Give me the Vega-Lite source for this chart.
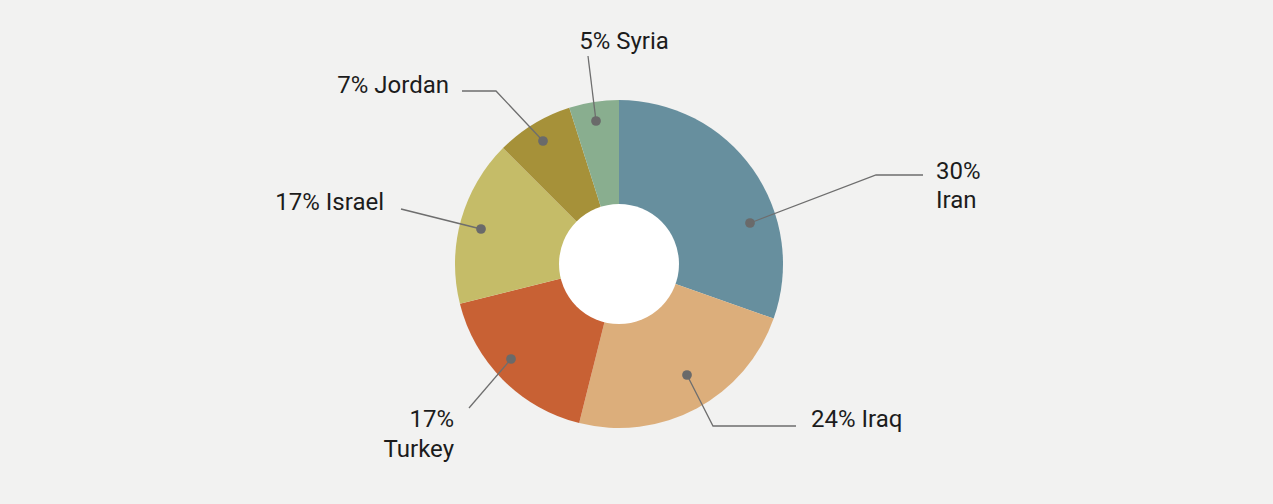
{
  "$schema": "https://vega.github.io/schema/vega-lite/v6.json",
  "width": 1238,
  "height": 480,
  "autosize": {"type": "none"},
  "padding": {"left": 0, "top": 24, "right": 35, "bottom": 0},
  "background": "#f2f2f1",
  "config": {"view": {"stroke": null}},
  "datasets": {
    "shares": [
      {"country": "Iran", "rank": 1, "share": 30.4},
      {"country": "Iraq", "rank": 2, "share": 23.5},
      {"country": "Turkey", "rank": 3, "share": 17.2},
      {"country": "Israel", "rank": 4, "share": 16.4},
      {"country": "Jordan", "rank": 5, "share": 7.6},
      {"country": "Syria", "rank": 6, "share": 4.9}
    ],
    "hole": [{"part": "centre", "v": 1}],
    "leaders": [
      {"country": "Iran", "step": 0, "x": 131, "y": 41},
      {"country": "Iran", "step": 1, "x": 257, "y": 89},
      {"country": "Iran", "step": 2, "x": 304, "y": 89},
      {"country": "Iraq", "step": 0, "x": 68, "y": -111},
      {"country": "Iraq", "step": 1, "x": 94, "y": -162},
      {"country": "Iraq", "step": 2, "x": 177, "y": -162},
      {"country": "Turkey", "step": 0, "x": -108, "y": -95},
      {"country": "Turkey", "step": 1, "x": -150, "y": -144},
      {"country": "Israel", "step": 0, "x": -138, "y": 35},
      {"country": "Israel", "step": 1, "x": -218, "y": 55},
      {"country": "Jordan", "step": 0, "x": -76, "y": 123},
      {"country": "Jordan", "step": 1, "x": -123, "y": 173},
      {"country": "Jordan", "step": 2, "x": -157, "y": 173},
      {"country": "Syria", "step": 0, "x": -23, "y": 143},
      {"country": "Syria", "step": 1, "x": -31, "y": 208}
    ],
    "labels": [
      {"country": "Iran", "label": "30%\nIran", "x": 317, "y": 85},
      {"country": "Iraq", "label": "24% Iraq", "x": 192, "y": -163},
      {"country": "Turkey", "label": "17%\nTurkey", "x": -165, "y": -163},
      {"country": "Israel", "label": "17% Israel", "x": -235, "y": 54},
      {"country": "Jordan", "label": "7% Jordan", "x": -170, "y": 171},
      {"country": "Syria", "label": "5% Syria", "x": 5, "y": 215}
    ]
  },
  "resolve": {"scale": {"theta": "independent"}},
  "layer": [
    {
      "data": {"name": "shares"},
      "mark": {"type": "arc", "outerRadius": 164, "innerRadius": 0, "stroke": null},
      "encoding": {
        "theta": {"field": "share", "type": "quantitative", "stack": true},
        "order": {"field": "rank", "type": "quantitative", "sort": "ascending"},
        "color": {
          "field": "country",
          "type": "nominal",
          "legend": null,
          "scale": {
            "domain": ["Iran", "Iraq", "Turkey", "Israel", "Jordan", "Syria"],
            "range": ["#678f9e", "#dcae7b", "#c86134", "#c5bc68", "#a69139", "#89ae8f"]
          }
        }
      }
    },
    {
      "data": {"name": "hole"},
      "mark": {"type": "arc", "outerRadius": 60, "fill": "#ffffff", "stroke": null},
      "encoding": {
        "theta": {"field": "v", "type": "quantitative", "stack": true}
      }
    },
    {
      "data": {"name": "leaders"},
      "mark": {"type": "line", "color": "#6e6e6e", "strokeWidth": 1.3},
      "encoding": {
        "x": {"field": "x", "type": "quantitative", "scale": {"domain": [-619, 619], "nice": false, "zero": false}, "axis": null},
        "y": {"field": "y", "type": "quantitative", "scale": {"domain": [-240, 240], "nice": false, "zero": false}, "axis": null},
        "detail": {"field": "country"},
        "order": {"field": "step", "type": "quantitative"}
      }
    },
    {
      "data": {"name": "leaders"},
      "transform": [{"filter": "datum.step == 0"}],
      "mark": {"type": "point", "filled": true, "color": "#6a6a6a", "size": 95, "opacity": 1},
      "encoding": {
        "x": {"field": "x", "type": "quantitative"},
        "y": {"field": "y", "type": "quantitative"}
      }
    },
    {
      "data": {"name": "labels"},
      "transform": [{"filter": {"field": "country", "oneOf": ["Iran", "Iraq"]}}],
      "mark": {"type": "text", "align": "left", "baseline": "alphabetic", "font": "Roboto", "fontSize": 24, "color": "#1c1c1c", "lineBreak": "\n", "lineHeight": 29},
      "encoding": {
        "x": {"field": "x", "type": "quantitative"},
        "y": {"field": "y", "type": "quantitative"},
        "text": {"field": "label"}
      }
    },
    {
      "data": {"name": "labels"},
      "transform": [{"filter": {"field": "country", "oneOf": ["Turkey", "Israel", "Jordan"]}}],
      "mark": {"type": "text", "align": "right", "baseline": "alphabetic", "font": "Roboto", "fontSize": 24, "color": "#1c1c1c", "lineBreak": "\n", "lineHeight": 30},
      "encoding": {
        "x": {"field": "x", "type": "quantitative"},
        "y": {"field": "y", "type": "quantitative"},
        "text": {"field": "label"}
      }
    },
    {
      "data": {"name": "labels"},
      "transform": [{"filter": {"field": "country", "oneOf": ["Syria"]}}],
      "mark": {"type": "text", "align": "center", "baseline": "alphabetic", "font": "Roboto", "fontSize": 24, "color": "#1c1c1c"},
      "encoding": {
        "x": {"field": "x", "type": "quantitative"},
        "y": {"field": "y", "type": "quantitative"},
        "text": {"field": "label"}
      }
    }
  ]
}
